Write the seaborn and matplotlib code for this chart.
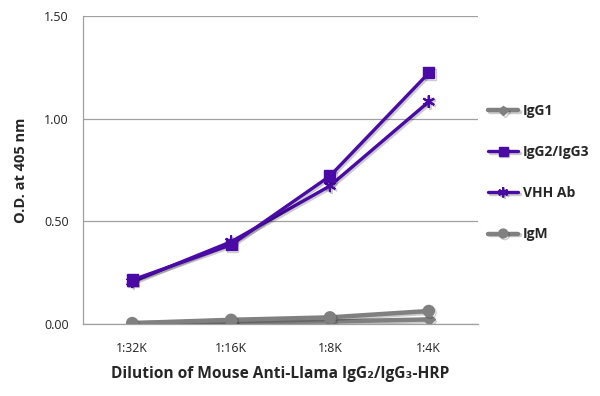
import matplotlib
matplotlib.use("Agg")
import matplotlib.pyplot as plt
import matplotlib.patheffects as pe
import seaborn as sns
import pandas as pd

dilutions = ["1:32K", "1:16K", "1:8K", "1:4K"]
igg1 = [0.004, 0.008, 0.012, 0.022]
igg2_igg3 = [0.214, 0.385, 0.720, 1.222]
vhh_ab = [0.205, 0.400, 0.672, 1.082]
igm = [0.004, 0.020, 0.032, 0.063]

series = [
    ("IgG1", igg1, "#808080", "D", 6, 3.2),
    ("IgG2/IgG3", igg2_igg3, "#4a0aa6", "s", 8, 2.4),
    ("VHH Ab", vhh_ab, "#4a0aa6", (6, 2, 0), 9, 2.4),
    ("IgM", igm, "#808080", "o", 8, 3.2),
]

sns.set_style("white")
plt.rcParams['font.family'] = ['Open Sans', 'DejaVu Sans']

fig = plt.figure(figsize=(6, 3.96), dpi=100)
ax = fig.add_axes([0.138, 0.182, 0.659, 0.778])

zorders = {"IgG1": 3, "IgM": 4, "IgG2/IgG3": 6, "VHH Ab": 5}
for name, vals, color, marker, ms, lw in series:
    df = pd.DataFrame({"dilution": dilutions, "od": vals})
    sns.lineplot(data=df, x="dilution", y="od", ax=ax, color=color, marker=marker,
                 markersize=ms, linewidth=lw, markeredgecolor=color,
                 markeredgewidth=1.5 if marker == (6, 2, 0) else 1,
                 label=name, zorder=zorders[name],
                 path_effects=[pe.SimpleLineShadow(offset=(1.2, -1.2), alpha=0.2), pe.Normal()])

ax.set_xlim(-0.5, 3.5)
ax.set_ylim(0, 1.5)
ax.set_yticks([0, 0.5, 1.0, 1.5])
ax.set_yticklabels(["0.00", "0.50", "1.00", "1.50"])
ax.yaxis.grid(True, color="#a0a0a0", linewidth=0.9)
ax.set_axisbelow(True)

ax.set_xticks(range(len(dilutions)))
ax.set_xticklabels(dilutions)
ax.set_xticks([-0.5, 0.5, 1.5, 2.5, 3.5], minor=True)
ax.tick_params(axis="x", which="major", length=0, pad=13, labelsize=8.8, colors="#222222")
ax.tick_params(axis="x", which="minor", length=4, width=0.9, color="#a0a0a0", direction="out")
ax.tick_params(axis="y", which="major", length=4, width=0.9, color="#a0a0a0", direction="out",
               labelsize=9, labelcolor="#222222", pad=6)

for side in ["top", "right"]:
    ax.spines[side].set_visible(False)
for side in ["left", "bottom"]:
    ax.spines[side].set_color("#a0a0a0")
    ax.spines[side].set_linewidth(0.9)

ax.set_xlabel("Dilution of Mouse Anti-Llama IgG\u2082/IgG\u2083-HRP", fontsize=11.2, fontweight="bold", labelpad=8)
ax.set_ylabel("O.D. at 405 nm", fontsize=10.5, fontweight="bold", labelpad=12)

handles, labels = ax.get_legend_handles_labels()
ax.legend(handles, labels, loc="upper left", bbox_to_anchor=(1.0, 0.745), frameon=False,
          prop={"weight": "bold", "size": 10}, labelspacing=1.95,
          handlelength=2.2, handletextpad=0.3, borderaxespad=0.3, markerscale=0.8)

fig.savefig("out.png", dpi=100)
